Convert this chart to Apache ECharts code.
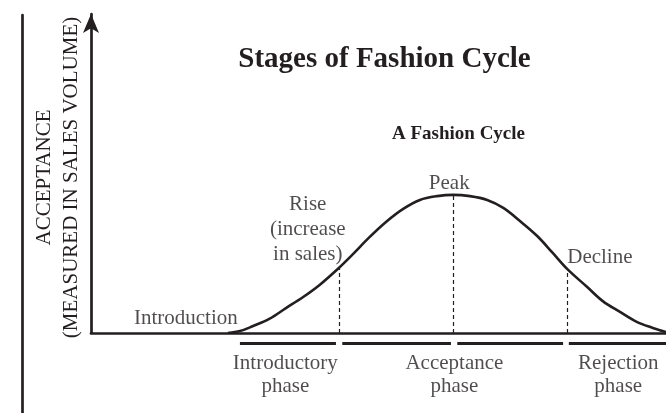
<!DOCTYPE html>
<html>
<head>
<meta charset="utf-8">
<script src="https://cdn.jsdelivr.net/npm/echarts@6/dist/echarts.min.js"></script>
<style>
html,body{margin:0;padding:0;background:#fff;}
#chart{width:666px;height:413px;}
</style>
</head>
<body>
<div id="chart"></div>
<script>
// ---- data (time on x, acceptance on y, both 0..100) ----
const curveX = [23.8, 25.9, 28.2, 31.0, 33.9, 36.9, 39.7, 43.1, 45.6, 48.3, 51.3, 54.3, 57.2, 60.2, 63.0, 65.9, 68.9, 71.7, 74.6, 77.6, 80.3, 82.8, 86.3, 89.0, 92.0, 95.0, 97.7, 100];
const curveY = [0, 0.6, 2.2, 4.4, 7.8, 11.3, 15.0, 20.4, 24.8, 29.8, 34.8, 38.9, 41.7, 42.9, 43.3, 42.9, 41.7, 39.2, 35.1, 30.4, 25.1, 20.1, 14.4, 10.0, 6.6, 3.4, 1.6, 0.3];
const guideX = [43.1, 63.0, 82.8];
const guideTop = [20.4, 43.3, 20.1];
const phaseStart = [25.9, 43.7, 63.7, 83.1];
const phaseEnd = [42.6, 62.6, 82.1, 100];
const phaseNames = ['Introductory\nphase', 'Acceptance\nphase', 'Rejection\nphase'];
const phaseCenterX = [33.8, 63.2, 91.7];
const stageNames = ['Introduction', 'Rise\n(increase\nin sales)', 'Peak', 'Decline'];
const stageX = [16.5, 37.7, 62.3, 88.5];
const stageY = [4.7, 32.6, 47.0, 23.8];
const titleText = 'Stages of Fashion Cycle';
const subTitleText = 'A Fashion Cycle';
const yName = 'ACCEPTANCE\n(MEASURED IN SALES VOLUME)';

const INK = '#231f20';
const SERIF = '"Liberation Serif", "DejaVu Serif", serif';
const BAR_LEVEL = 10;     // below-baseline strip units
const PHASE_LABEL_LEVEL = 41.5;

const chart = echarts.init(document.getElementById('chart'), null, {renderer: 'canvas'});

const hiddenAxis = {show: false};

const option = {
  backgroundColor: '#fff',
  animation: false,
  title: [
    {
      text: titleText, left: 384.5, top: 59.5, padding: 0,
      textAlign: 'center', textVerticalAlign: 'middle',
      textStyle: {fontFamily: SERIF, fontSize: 29, fontWeight: 'bold', color: INK}
    },
    {
      text: subTitleText, left: 458.5, top: 134, padding: 0,
      textAlign: 'center', textVerticalAlign: 'middle',
      textStyle: {fontFamily: SERIF, fontSize: 19, fontWeight: 'bold', color: INK}
    }
  ],
  grid: [
    {left: 91, right: 0, top: 14, bottom: 80, outerBoundsMode: 'none', containLabel: false},
    {left: 91, right: 0, top: 333, bottom: 0, outerBoundsMode: 'none', containLabel: false},
    {left: 22, top: 15, bottom: 0, width: 20, outerBoundsMode: 'none', containLabel: false}
  ],
  xAxis: [
    {
      gridIndex: 0, type: 'value', min: 0, max: 100,
      axisLine: {show: true, onZero: false, lineStyle: {color: INK, width: 2.7}},
      axisTick: {show: false}, axisLabel: {show: false}, splitLine: {show: false}
    },
    Object.assign({gridIndex: 1, type: 'value', min: 0, max: 100}, hiddenAxis),
    Object.assign({gridIndex: 2, type: 'value', min: 0, max: 1}, hiddenAxis)
  ],
  yAxis: [
    {
      gridIndex: 0, type: 'value', min: 0, max: 100,
      name: yName, nameLocation: 'middle', nameRotate: 90, nameGap: 6.5,
      nameTextStyle: {fontFamily: SERIF, fontSize: 21, lineHeight: 27, color: INK, padding: [0, 8, 0, 0]},
      axisLine: {show: true, symbol: ['none', 'arrow'], symbolSize: [12, 19], lineStyle: {color: INK, width: 2.7}},
      axisTick: {show: false}, axisLabel: {show: false}, splitLine: {show: false}
    },
    Object.assign({gridIndex: 1, type: 'value', min: 0, max: 80, inverse: true}, hiddenAxis),
    {
      gridIndex: 2, type: 'value', min: 0, max: 1,
      axisLine: {show: true, lineStyle: {color: INK, width: 2.7}},
      axisTick: {show: false}, axisLabel: {show: false}, splitLine: {show: false}
    }
  ],
  series: [
    {
      type: 'line', xAxisIndex: 0, yAxisIndex: 0,
      data: curveX.map((x, i) => [x, curveY[i]]),
      smooth: 0.35, symbol: 'none',
      lineStyle: {color: INK, width: 2.6},
      silent: true,
      markLine: {
        silent: true, symbol: ['none', 'none'], label: {show: false},
        lineStyle: {color: INK, width: 1.2, type: [4, 3]},
        emphasis: {disabled: true},
        data: guideX.map((x, i) => [{coord: [x, 0]}, {coord: [x, guideTop[i]]}])
      }
    },
    {
      type: 'scatter', xAxisIndex: 0, yAxisIndex: 0, symbolSize: 0, silent: true,
      data: stageNames.map((n, i) => ({name: n, value: [stageX[i], stageY[i]]})),
      label: {show: true, position: 'inside', formatter: '{b}', fontFamily: SERIF, fontSize: 21, lineHeight: 25, color: INK, align: 'center', verticalAlign: 'middle'}
    },
    {
      type: 'lines', coordinateSystem: 'cartesian2d', xAxisIndex: 1, yAxisIndex: 1, silent: true,
      lineStyle: {color: INK, width: 3, opacity: 1},
      data: phaseStart.map((s, i) => ({coords: [[s, BAR_LEVEL], [phaseEnd[i], BAR_LEVEL]]}))
    },
    {
      type: 'scatter', xAxisIndex: 1, yAxisIndex: 1, symbolSize: 0, silent: true,
      data: phaseNames.map((n, i) => ({name: n, value: [phaseCenterX[i], PHASE_LABEL_LEVEL]})),
      label: {show: true, position: 'inside', formatter: '{b}', fontFamily: SERIF, fontSize: 21, lineHeight: 23, color: INK, align: 'center', verticalAlign: 'middle'}
    }
  ]
};
chart.setOption(option);
</script>
</body>
</html>
